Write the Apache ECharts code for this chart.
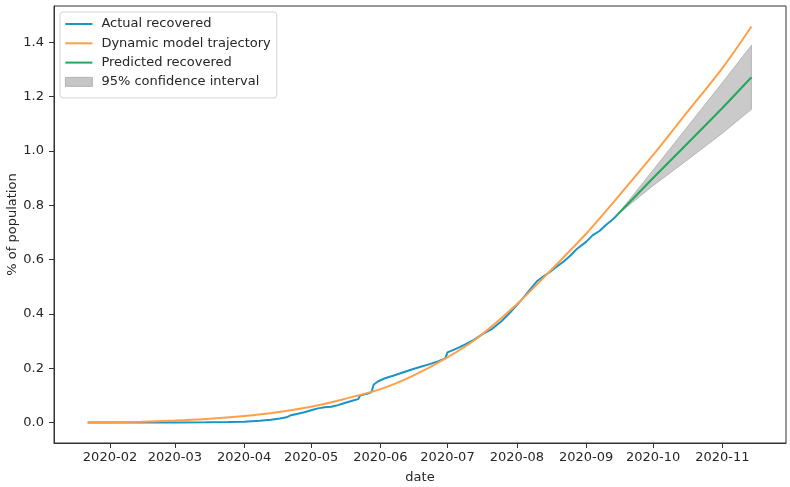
<!DOCTYPE html>
<html><head><meta charset="utf-8">
<script src="https://cdn.jsdelivr.net/npm/echarts@6/dist/echarts.min.js"></script>
<style>html,body{margin:0;padding:0;background:#fff}#c{width:790px;height:487px}</style>
</head><body><div id="c"></div>
<script>
// ---- data ----
const xTickLabels = ['2020-02','2020-03','2020-04','2020-05','2020-06','2020-07','2020-08','2020-09','2020-10','2020-11'];
const yTickValues = [0.0, 0.2, 0.4, 0.6, 0.8, 1.0, 1.2, 1.4];

const actualDates = ['2020-01-22','2020-02-01','2020-02-15','2020-03-01','2020-03-15','2020-03-25','2020-04-01','2020-04-08','2020-04-13','2020-04-17','2020-04-20','2020-04-22','2020-04-25','2020-04-28','2020-05-01','2020-05-04','2020-05-07','2020-05-10','2020-05-13','2020-05-16','2020-05-19','2020-05-22','2020-05-23','2020-05-26','2020-05-28','2020-05-29','2020-05-31','2020-06-03','2020-06-07','2020-06-11','2020-06-15','2020-06-19','2020-06-23','2020-06-27','2020-06-30','2020-07-01','2020-07-05','2020-07-09','2020-07-13','2020-07-17','2020-07-21','2020-07-25','2020-07-29','2020-08-01','2020-08-04','2020-08-07','2020-08-10','2020-08-13','2020-08-16','2020-08-19','2020-08-22','2020-08-25','2020-08-28','2020-09-01','2020-09-04','2020-09-07','2020-09-10','2020-09-13','2020-09-15'];
const actualValues = [0,0.0001,0.0002,0.0004,0.0008,0.0015,0.003,0.006,0.010,0.015,0.019,0.027,0.032,0.038,0.045,0.052,0.056,0.058,0.064,0.072,0.079,0.086,0.100,0.106,0.112,0.140,0.152,0.163,0.173,0.184,0.195,0.205,0.215,0.226,0.236,0.258,0.272,0.288,0.305,0.327,0.345,0.372,0.405,0.432,0.46,0.49,0.52,0.538,0.555,0.575,0.593,0.615,0.64,0.665,0.69,0.705,0.728,0.748,0.765];

const modelDates = ['2020-01-22','2020-02-01','2020-02-15','2020-03-01','2020-03-15','2020-04-01','2020-04-15','2020-05-01','2020-05-15','2020-06-01','2020-06-15','2020-07-01','2020-07-15','2020-08-01','2020-08-15','2020-09-01','2020-09-15','2020-10-01','2020-10-15','2020-11-01','2020-11-14'];
const modelValues = [0.000,0.001,0.003,0.007,0.013,0.024,0.037,0.058,0.085,0.123,0.170,0.240,0.315,0.435,0.55,0.695,0.828,0.985,1.13,1.305,1.458];

const predDates = ['2020-09-15','2020-10-01','2020-10-15','2020-11-01','2020-11-14'];
const predValues = [0.765,0.90,1.016,1.158,1.271];
const ciLower = [0.765,0.872,0.958,1.065,1.153];
const ciUpper = [0.765,0.93,1.075,1.252,1.389];

// ---- helpers ----
function ts(d){const p=d.split('-');return Date.UTC(+p[0],+p[1]-1,+(p[2]||1));}
function zip(ds,vs){return ds.map((d,i)=>[ts(d),vs[i]]);}
const xTicks = xTickLabels.map(ts);
const DAY = 86400000;

const FONT = 'DejaVu Sans';
const TXT = '#262626';
const BLUE = '#1b93c6', ORANGE = '#ffa048', GREEN = '#22a85a';
const LINE_ICON = 'path://M0,0 L27,0 L27,2 L0,2 Z';

const bandData = predDates.map((d,i)=>[ts(d),ciLower[i],ciUpper[i]]);

const chart = echarts.init(document.getElementById('c'), null, {renderer:'canvas'});
chart.setOption({
  animation:false,
  backgroundColor:'#ffffff',
  grid:{left:54,right:4,top:6,bottom:44,outerBoundsMode:'none',containLabel:false,show:true,borderColor:'#333',borderWidth:1,backgroundColor:'transparent'},
  legend:{
    orient:'vertical', left:60, top:12,
    padding:[5,6,9,5],
    itemWidth:27, itemHeight:9, itemGap:5.3,
    backgroundColor:'rgba(255,255,255,0.85)',
    borderColor:'#d4d4d4', borderWidth:1, borderRadius:3,
    textStyle:{fontFamily:FONT,fontSize:13,color:TXT,lineHeight:14,padding:[0,0,0,4]},
    data:[
      {name:'Actual recovered',icon:LINE_ICON,itemStyle:{color:BLUE}},
      {name:'Dynamic model trajectory',icon:LINE_ICON,itemStyle:{color:ORANGE}},
      {name:'Predicted recovered',icon:LINE_ICON,itemStyle:{color:GREEN}},
      {name:'95% confidence interval',icon:'rect',itemStyle:{color:'#c6c6c6',borderColor:'#a9a9a9',borderWidth:0.8}}
    ]
  },
  xAxis:{
    type:'value',
    min: ts('2020-01-07') - 0.06*DAY,
    max: ts('2020-11-29') + 0.45*DAY,
    name:'date', nameLocation:'middle', nameGap:28, nameMoveOverlap:false,
    nameTextStyle:{fontFamily:FONT,fontSize:13,color:TXT},
    axisLine:{show:true,onZero:false,lineStyle:{color:'#333',width:1}},
    axisTick:{show:true,length:5,lineStyle:{color:'#333'},customValues:xTicks},
    axisLabel:{fontFamily:FONT,fontSize:13,color:TXT,margin:8,customValues:xTicks,
      formatter:function(v){const d=new Date(v);return d.getUTCFullYear()+'-'+String(d.getUTCMonth()+1).padStart(2,'0');}},
    splitLine:{show:false}
  },
  yAxis:{
    type:'value',
    min:-0.0755, max:1.5335,
    name:'% of population', nameLocation:'middle', nameGap:35, nameRotate:90, nameMoveOverlap:false,
    nameTextStyle:{fontFamily:FONT,fontSize:13,color:TXT},
    axisLine:{show:true,onZero:false,lineStyle:{color:'#333',width:1}},
    axisTick:{show:true,length:5,lineStyle:{color:'#333'},customValues:yTickValues},
    axisLabel:{fontFamily:FONT,fontSize:13,color:TXT,margin:10,customValues:yTickValues,
      formatter:function(v){return v.toFixed(1);}},
    splitLine:{show:false}
  },
  series:[
    {name:'Actual recovered',type:'line',data:zip(actualDates,actualValues),symbol:'none',
      lineStyle:{color:BLUE,width:2},itemStyle:{color:BLUE},z:3},
    {name:'Dynamic model trajectory',type:'line',data:zip(modelDates,modelValues),symbol:'none',smooth:0.3,
      lineStyle:{color:ORANGE,width:2},itemStyle:{color:ORANGE},z:4},
    {name:'95% confidence interval',type:'custom',silent:true,z:2,
      itemStyle:{color:'#c6c6c6'},
      data:[[0]],
      renderItem:function(params,api){
        const up = bandData.map(r=>api.coord([r[0],r[2]]));
        const lo = bandData.map(r=>api.coord([r[0],r[1]])).reverse();
        return {type:'polygon',shape:{points:up.concat(lo)},
          style:{fill:'rgba(128,128,128,0.42)',stroke:'rgba(110,110,110,0.45)',lineWidth:0.8}};
      }},
    {name:'Predicted recovered',type:'line',data:zip(predDates,predValues),symbol:'none',
      lineStyle:{color:GREEN,width:2},itemStyle:{color:GREEN},z:5}
  ]
});
</script>
</body></html>
